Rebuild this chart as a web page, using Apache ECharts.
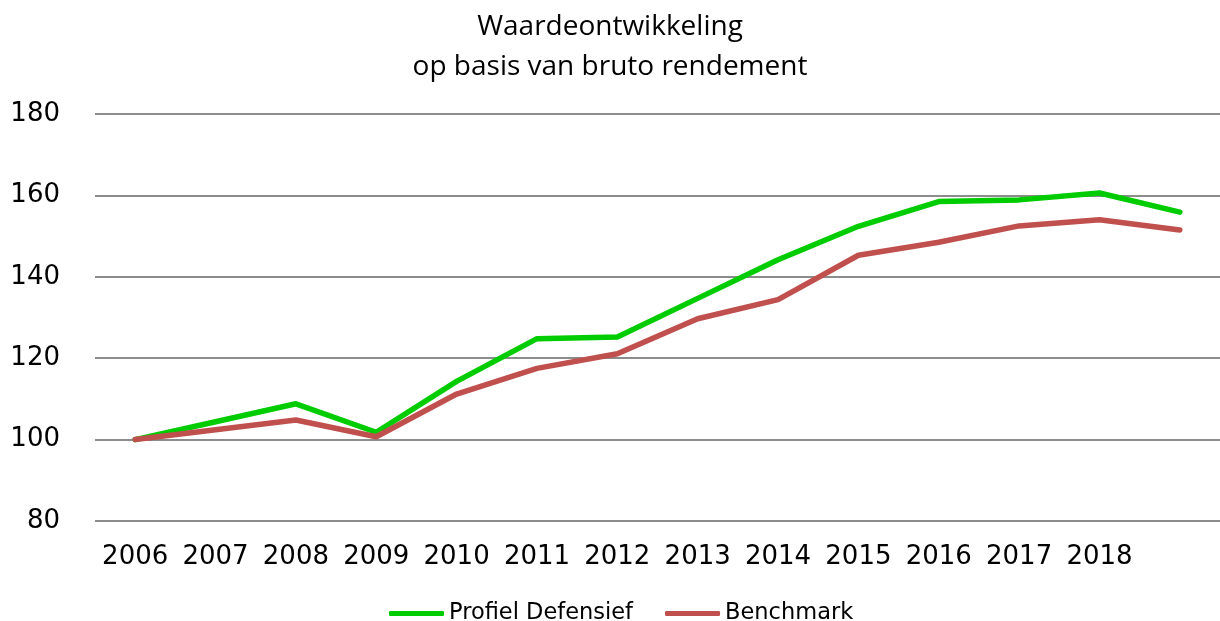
<!DOCTYPE html>
<html>
<head>
<meta charset="utf-8">
<script src="https://cdn.jsdelivr.net/npm/echarts@6/dist/echarts.min.js"></script>
<style>
  html, body { margin: 0; padding: 0; background: #fff; }
  #chart { width: 1220px; height: 621px; }
</style>
</head>
<body>
<div id="chart"></div>
<script>
// jaren (laatste punt heeft geen label)
const years = ['2006', '2007', '2008', '2009', '2010', '2011', '2012', '2013', '2014', '2015', '2016', '2017', '2018', ''];
const profielDefensief = [100, 104.4, 108.8, 101.8, 114.3, 124.8, 125.2, 134.7, 144.2, 152.4, 158.5, 158.9, 160.6, 155.9];
const benchmark = [100, 102.4, 104.8, 100.7, 111.2, 117.5, 121.1, 129.7, 134.4, 145.3, 148.5, 152.5, 154.0, 151.5];
const yTicks = [80, 100, 120, 140, 160, 180];

const myChart = echarts.init(document.getElementById('chart'));
const option = {
  animation: false,
  title: {
    text: 'Waardeontwikkeling\nop basis van bruto rendement',
    left: 'center',
    top: 2,
    textStyle: {
      fontFamily: 'Liberation Sans Narrow, Open Sans, sans-serif',
      fontSize: 28,
      fontWeight: 'normal',
      color: '#000',
      lineHeight: 40
    }
  },
  legend: {
    top: 597,
    left: 384,
    itemWidth: 55,
    itemHeight: 5,
    itemGap: 32,
    icon: 'roundRect',
    textStyle: { fontFamily: 'DejaVu Sans', fontSize: 22.5, color: '#000' },
    data: ['Profiel Defensief', 'Benchmark']
  },
  grid: { left: 95, right: 0, top: 114, bottom: 100 },
  xAxis: {
    type: 'category',
    boundaryGap: true,
    data: years,
    axisLine: { show: false },
    axisTick: { show: false },
    axisLabel: {
      margin: 23,
      interval: 0,
      fontFamily: 'DejaVu Sans',
      fontSize: 26,
      color: '#000'
    }
  },
  yAxis: {
    type: 'value',
    min: yTicks[0],
    max: yTicks[yTicks.length - 1],
    interval: 20,
    axisLine: { show: false },
    axisTick: { show: false },
    axisLabel: {
      margin: 35,
      fontFamily: 'DejaVu Sans',
      fontSize: 26,
      color: '#000'
    },
    splitLine: { lineStyle: { color: '#8c8c8c', width: 2 } }
  },
  series: [
    {
      name: 'Profiel Defensief',
      type: 'line',
      symbol: 'none',
      data: profielDefensief,
      itemStyle: { color: '#00cc00' },
      lineStyle: { color: '#00cc00', width: 5.5, cap: 'round', join: 'round' }
    },
    {
      name: 'Benchmark',
      type: 'line',
      symbol: 'none',
      data: benchmark,
      itemStyle: { color: '#c0504d' },
      lineStyle: { color: '#c0504d', width: 5.5, cap: 'round', join: 'round' }
    }
  ]
};
myChart.setOption(option);
window.addEventListener('resize', function () {
  myChart.resize();
});
</script>
</body>
</html>
